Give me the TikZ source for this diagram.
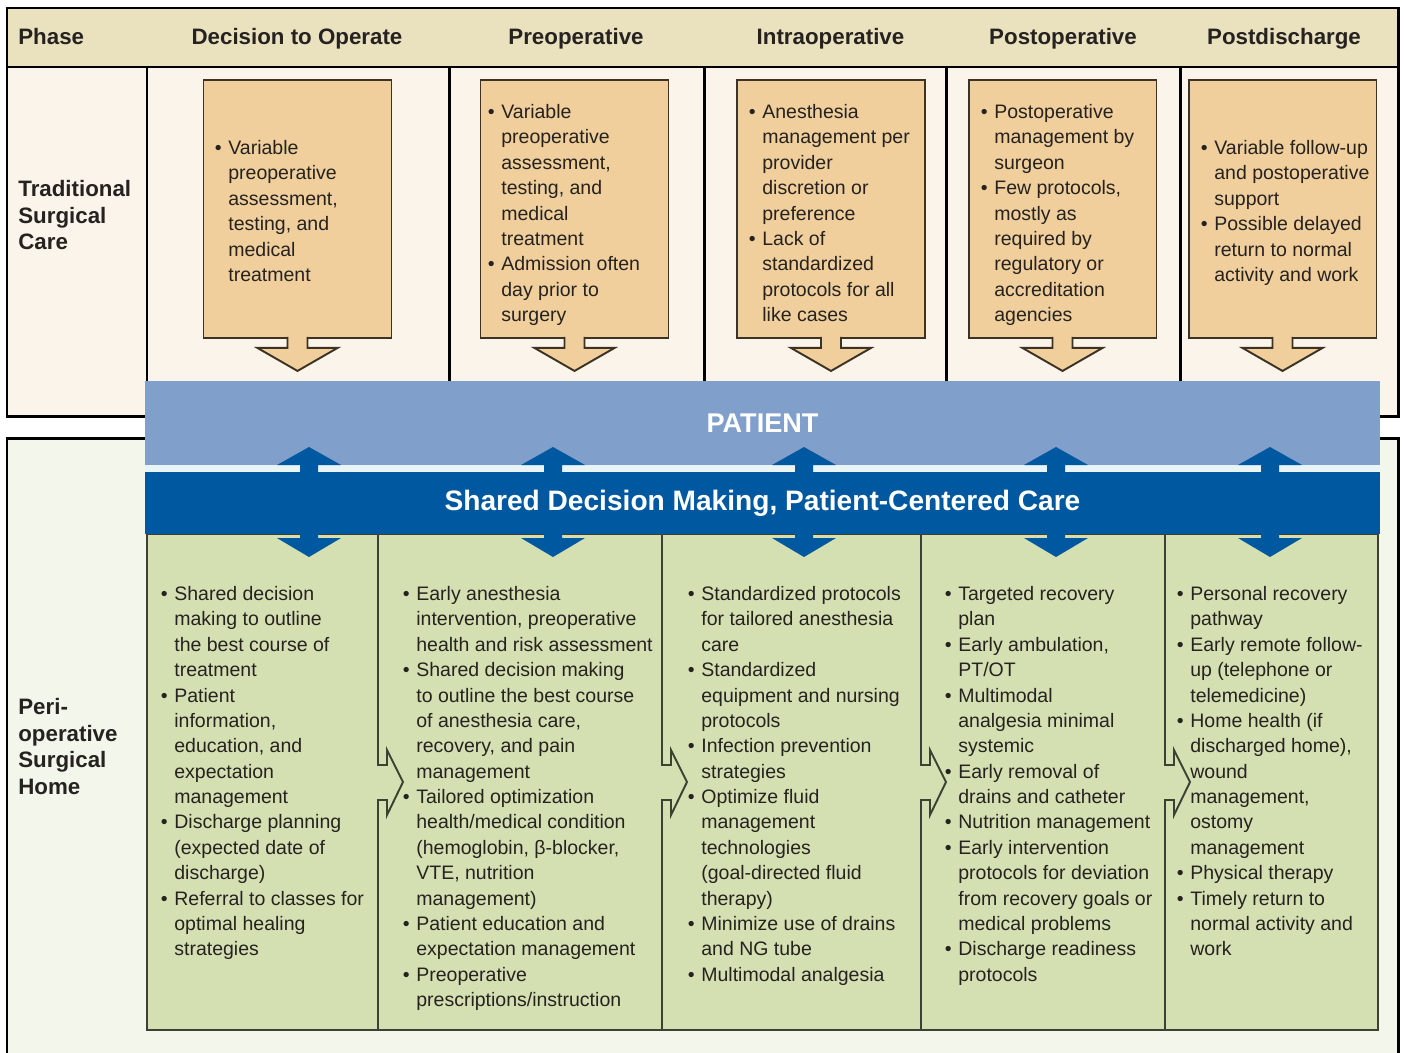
\documentclass[tikz,border=0pt]{standalone}
\usepackage{fontspec}
\setmainfont{Liberation Sans}
\usepackage{xcolor}
\usetikzlibrary{positioning,calc}

\definecolor{ink}{HTML}{252220}
\definecolor{headfill}{HTML}{EAE1BF}
\definecolor{tradfill}{HTML}{FBF4EA}
\definecolor{oldfill}{HTML}{F0CF9C}
\definecolor{oldline}{HTML}{3D3324}
\definecolor{patblue}{HTML}{809FCB}
\definecolor{shareblue}{HTML}{0058A0}
\definecolor{gapcol}{HTML}{E9F4F6}
\definecolor{perifill}{HTML}{F3F6EA}
\definecolor{homefill}{HTML}{D5E0B2}
\definecolor{homeline}{HTML}{3B4233}

\newlength{\bulw}
\setlength{\bulw}{0.27cm}
\newcommand{\bu}{\makebox[\bulw][l]{\textbullet}}
\newcommand{\hg}{\hspace*{\bulw}}

\begin{document}
\begin{tikzpicture}[x=0.02cm,y=-0.02cm]
	\tikzset{frame/.style = {draw=black,line width=1.7pt}}
	
	\tikzset{oldbox/.style = {draw=oldline,fill=oldfill,line width=1.1pt,minimum width=3.76cm,minimum height=5.16cm,inner sep=0pt}}
	
	\tikzset{downarrow/.style = {draw=oldline,fill=oldfill,line width=1.1pt}}
	
	\tikzset{sepline/.style = {draw=homeline,line width=1.1pt}}
	
	\tikzset{txt/.style = {inner sep=0pt,align=left,text=ink,anchor=north west,font=\fontsize{11.1}{14.45}\selectfont}}
	
	\tikzset{head/.style = {inner sep=0pt,text=ink,font=\bfseries\fontsize{12.7}{15.1}\selectfont}}
	
	\tikzset{band/.style = {minimum width=24.7cm,inner sep=0pt,text=white}}
	
	\useasboundingbox (0,0) rectangle (1405,1052);
	
	% frames
	\draw[frame,fill=tradfill] (7,8) rectangle (1398,416);
	\draw[frame,fill=headfill] (7,8) rectangle (1398,67);
	\foreach \x in {147,449,704,946,1180}
		\draw[frame] (\x,67) -- (\x,381);
	\draw[frame,fill=perifill] (7,1070) -- (7,438) -- (1398,438) -- (1398,1070);
	
	% phase titles
	\node[head,anchor=base west] (ph) at (18,44) {Phase};
	\node[head,anchor=base] (ph1) at (297,44) {Decision to Operate};
	\node[head,anchor=base] (ph2) at (576,44) {Preoperative};
	\node[head,anchor=base] (ph3) at (830.5,44) {Intraoperative};
	\node[head,anchor=base] (ph4) at (1063,44) {Postoperative};
	\node[head,anchor=base] (ph5) at (1284,44) {Postdischarge};
	
	\node[head,align=left,anchor=north west] (trad) at (18,180) {Traditional\\Surgical\\Care};
	\node[head,align=left,anchor=north west] (peri) at (18,698) {Peri-\\operative\\Surgical\\Home};
	
	% traditional care boxes
	\node[oldbox] (d1) at (297.5,209) {};
	\node[oldbox] (d2) at (574.5,209) {};
	\node[oldbox] (d3) at (831,209) {};
	\node[oldbox] (d4) at (1062.5,209) {};
	\node[oldbox] (d5) at (1282.5,209) {};
	\foreach \b in {d1,d2,d3,d4,d5}
		\draw[downarrow] ($(\b.south)+(-10,-2)$) -- ++(0,11) -- ++(-30,0) -- ++(40,23) -- ++(40,-23) -- ++(-30,0) -- ++(0,-11);
	
	\node[txt] (x1) at (214.5,140) {\bu Variable\\\hg preoperative\\\hg assessment,\\\hg testing, and\\\hg medical\\\hg treatment};
	\node[txt] (x2) at (487.5,104) {\bu Variable\\\hg preoperative\\\hg assessment,\\\hg testing, and\\\hg medical\\\hg treatment\\\bu Admission often\\\hg day prior to\\\hg surgery};
	\node[txt] (x3) at (748.5,104) {\bu Anesthesia\\\hg management per\\\hg provider\\\hg discretion or\\\hg preference\\\bu Lack of\\\hg standardized\\\hg protocols for all\\\hg like cases};
	\node[txt] (x4) at (980.5,104) {\bu Postoperative\\\hg management by\\\hg surgeon\\\bu Few protocols,\\\hg mostly as\\\hg required by\\\hg regulatory or\\\hg accreditation\\\hg agencies};
	\node[txt] (x5) at (1200.5,140) {\bu Variable follow-up\\\hg and postoperative\\\hg support\\\bu Possible delayed\\\hg return to normal\\\hg activity and work};
	
	% perioperative surgical home
	\node[draw=homeline,fill=homefill,line width=1.1pt,minimum width=24.62cm,minimum height=9.92cm,inner sep=0pt] (home) at (762.5,782) {};
	\foreach \x in {378,662,921,1165}
		\draw[sepline] (\x,534) -- (\x,765) -- ++(9,0) -- ++(0,-15) -- ++(16,32) -- ++(-16,33) -- ++(0,-15) -- ++(-9,0) -- (\x,1030);
	
	% patient bands
	\fill[gapcol] (145,465) rectangle (1380,472);
	\node[band,fill=patblue,minimum height=1.68cm,font=\bfseries\fontsize{15.4}{18}\selectfont] (pat) at (762.5,423) {PATIENT};
	\foreach \x in {309,553,804,1056,1270}
		\fill[shareblue] (\x-9,465) -- ++(-23,0) -- (\x,447) -- (\x+32,465) -- ++(-23,0) -- (\x+9,538) -- ++(23,0) -- (\x,557) -- (\x-32,538) -- ++(23,0) -- cycle;
	\node[band,fill=shareblue,minimum height=1.24cm,font=\bfseries\fontsize{16}{19}\selectfont] (sdm) at (762.5,503) {Shared Decision Making, Patient-Centered Care};
	
	\node[txt] (y1) at (160.5,586) {\bu Shared decision\\\hg making to outline\\\hg the best course of\\\hg treatment\\\bu Patient\\\hg information,\\\hg education, and\\\hg expectation\\\hg management\\\bu Discharge planning\\\hg (expected date of\\\hg discharge)\\\bu Referral to classes for\\\hg optimal healing\\\hg strategies};
	\node[txt] (y2) at (402.5,586) {\bu Early anesthesia\\\hg intervention, preoperative\\\hg health and risk assessment\\\bu Shared decision making\\\hg to outline the best course\\\hg of anesthesia care,\\\hg recovery, and pain\\\hg management\\\bu Tailored optimization\\\hg health/medical condition\\\hg (hemoglobin, β-blocker,\\\hg VTE, nutrition\\\hg management)\\\bu Patient education and\\\hg expectation management\\\bu Preoperative\\\hg prescriptions/instruction};
	\node[txt] (y3) at (687.5,586) {\bu Standardized protocols\\\hg for tailored anesthesia\\\hg care\\\bu Standardized\\\hg equipment and nursing\\\hg protocols\\\bu Infection prevention\\\hg strategies\\\bu Optimize fluid\\\hg management\\\hg technologies\\\hg (goal-directed fluid\\\hg therapy)\\\bu Minimize use of drains\\\hg and NG tube\\\bu Multimodal analgesia};
	\node[txt] (y4) at (944.5,586) {\bu Targeted recovery\\\hg plan\\\bu Early ambulation,\\\hg PT/OT\\\bu Multimodal\\\hg analgesia minimal\\\hg systemic\\\bu Early removal of\\\hg drains and catheter\\\bu Nutrition management\\\bu Early intervention\\\hg protocols for deviation\\\hg from recovery goals or\\\hg medical problems\\\bu Discharge readiness\\\hg protocols};
	\node[txt] (y5) at (1176.5,586) {\bu Personal recovery\\\hg pathway\\\bu Early remote follow-\\\hg up (telephone or\\\hg telemedicine)\\\bu Home health (if\\\hg discharged home),\\\hg wound\\\hg management,\\\hg ostomy\\\hg management\\\bu Physical therapy\\\bu Timely return to\\\hg normal activity and\\\hg work};
\end{tikzpicture}
\end{document}
